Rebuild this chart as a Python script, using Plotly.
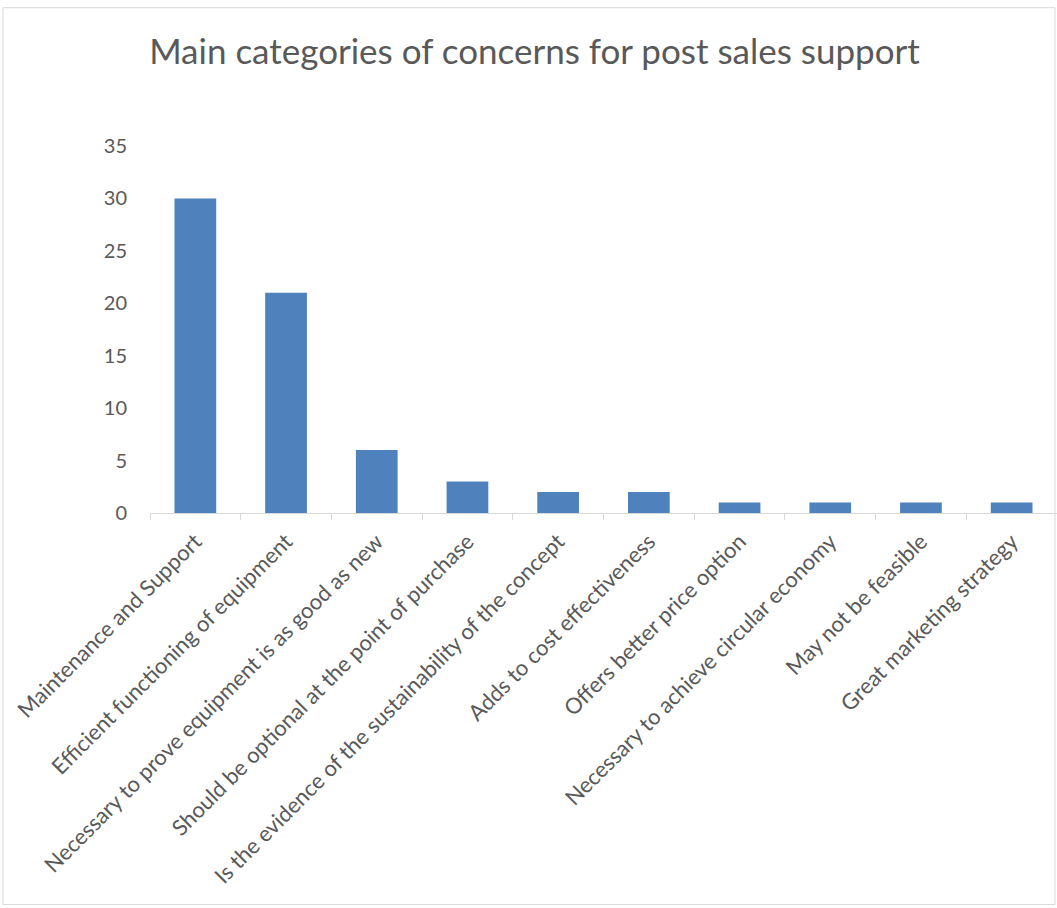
import plotly.graph_objects as go

categories = [
    "Maintenance and Support",
    "Efficient functioning of equipment",
    "Necessary to prove equipment is as good as new",
    "Should be optional at the point of purchase",
    "Is the evidence of the sustainability of the concept",
    "Adds to cost effectiveness",
    "Offers better price option",
    "Necessary to achieve circular economy",
    "May not be feasible",
    "Great marketing strategy",
]
values = [30, 21, 6, 3, 2, 2, 1, 1, 1, 1]
y_ticks = [0, 5, 10, 15, 20, 25, 30, 35]

W, H = 1057, 908
L, R, T, B = 150, 0, 145.5, 395
pw = W - L - R
ph = H - T - B

def px2paper(x, y):
    return (x - L) / pw, (H - B - y) / ph

FONT = "Lato"
GRAY = "#595959"

fig = go.Figure(go.Bar(
    x=categories, y=values,
    marker=dict(color="#4f81bd", line=dict(width=0)),
))

x0, y0 = px2paper(3, 7)
x1, y1 = px2paper(1055, 905)

fig.update_layout(
    width=W, height=H,
    margin=dict(l=L, r=R, t=T, b=B, pad=0),
    plot_bgcolor="white", paper_bgcolor="white",
    bargap=0.54,
    showlegend=False,
    title=dict(
        text="Main categories of concerns for post sales support",
        x=(152 + 917) / 2 / W, xanchor="center",
        y=1 - 52 / H, yanchor="middle",
        font=dict(family=FONT, size=35, color=GRAY),
    ),
    xaxis=dict(
        type="category",
        range=[-0.5, 9.5],
        showline=True, linecolor="#d9d9d9", linewidth=1,
        ticks="outside", tickson="boundaries", ticklen=6, tickcolor="#d9d9d9",
        tickangle=-45, ticklabelstandoff=6,
        tickfont=dict(family=FONT, size=22, color=GRAY),
        showgrid=False,
    ),
    yaxis=dict(
        range=[0, 35],
        tickvals=y_ticks,
        showline=False, showgrid=False, zeroline=False,
        ticks="", ticklabelstandoff=22,
        tickfont=dict(family=FONT, size=20, color=GRAY),
    ),
    shapes=[dict(
        type="rect", xref="paper", yref="paper",
        x0=x0, y0=y1, x1=x1, y1=y0,
        line=dict(color="#d9d9d9", width=1), layer="below",
    )],
)

fig.write_html("out.html")
